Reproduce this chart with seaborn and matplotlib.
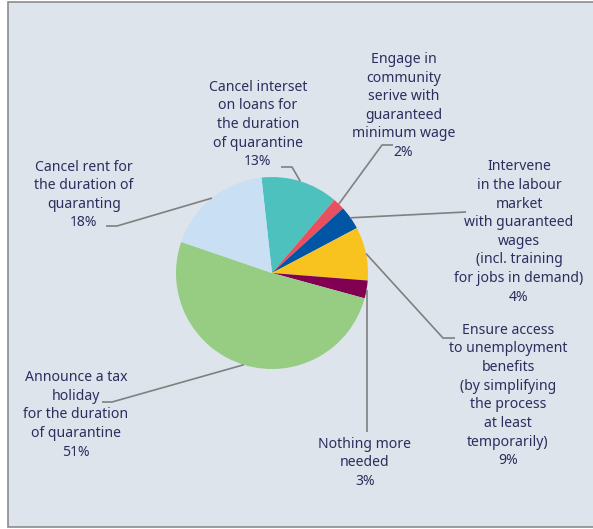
import numpy as np
import matplotlib
matplotlib.use("Agg")
import matplotlib.pyplot as plt
from matplotlib.patches import Rectangle
import seaborn as sns

# Survey answers, clockwise from the top of the pie
labels = [
    "Cancel interset\non loans for\nthe duration\nof quarantine",
    "Engage in\ncommunity\nserive with\nguaranteed\nminimum wage",
    "Intervene\nin the labour\nmarket\nwith guaranteed\nwages\n(incl. training\nfor jobs in demand)",
    "Ensure access\nto unemployment\nbenefits\n(by simplifying\nthe process\nat least\ntemporarily)",
    "Nothing more\nneeded",
    "Announce a tax\nholiday\nfor the duration\nof quarantine",
    "Cancel rent for\nthe duration of\nquaranting",
]
shares = [13, 2, 4, 9, 3, 51, 18]
colors = ["#4dc1bd", "#e8505f", "#0055a4", "#f9c31f", "#820051", "#97cd83", "#c9dff3"]

sns.set_style("white")
plt.rcParams["font.family"] = ["Noto Sans", "DejaVu Sans"]

W, H = 593, 529
fig = plt.figure(figsize=(W / 100, H / 100), dpi=100)
fig.patch.set_facecolor("white")
ax = fig.add_axes([0, 0, 1, 1])

def py(y):
    # layout helper: convert a top-down pixel row into axes y
    return H - y

# panel background with frame
ax.add_patch(Rectangle((8, py(527)), W + 10, 525, facecolor="#dde4ec",
                       edgecolor="#8c8c8c", linewidth=1.2, zorder=0))

center = (272, py(273))
radius = 96
start = 96.3
wedges, _ = ax.pie(shares, colors=sns.color_palette(colors), startangle=start,
                   counterclock=False, center=center, radius=radius,
                   wedgeprops=dict(linewidth=0), frame=True)
ax.set_xlim(0, W)
ax.set_ylim(0, H)
ax.set_aspect("equal")
ax.set_axis_off()

text_color = "#2d2e5e"
line_color = "#808080"

# label block centres (x, y in pixel rows)
label_pos = [(258, 124.5), (403.5, 106), (519, 232), (508, 395.5),
             (365, 463), (76, 415), (84, 195)]
# leader paths: points from the label towards the wedge
leader_paths = [
    [(281, 167), (292, 167)],
    [(393, 145), (382, 145)],
    [(466, 212)],
    [(455, 338), (443, 338)],
    None,
    [(102, 402), (112, 402)],
    [(106, 226), (117, 226)],
]

for w, lab, val, (lx, ly), path in zip(wedges, labels, shares, label_pos, leader_paths):
    mid = np.deg2rad((w.theta1 + w.theta2) / 2)
    ex = center[0] + radius * np.cos(mid)
    ey = center[1] + radius * np.sin(mid)
    if path is None:
        xs, ys = [ex, ex], [ey, py(432)]
    else:
        xs = [p[0] for p in path] + [ex]
        ys = [py(p[1]) for p in path] + [ey]
    ax.plot(xs, ys, color=line_color, linewidth=1.2, solid_capstyle="butt", zorder=3)
    ax.text(lx, py(ly), f"{lab}\n{val}%", ha="center", va="center",
            multialignment="center", fontsize=10.1, color=text_color,
            linespacing=1.33, zorder=4)

fig.savefig("out.png", dpi=100, facecolor="white")
